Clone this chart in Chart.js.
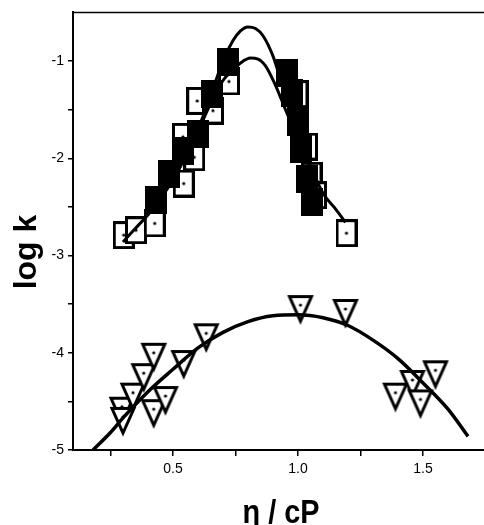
<!DOCTYPE html>
<html>
<head>
<meta charset="utf-8">
<script src="https://cdn.jsdelivr.net/npm/chart.js@4.4.1/dist/chart.umd.min.js"></script>
<style>
  html, body { margin: 0; padding: 0; background: #fff; }
  canvas { display: block; }
</style>
</head>
<body>
<canvas id="chart" width="484" height="525"></canvas>
<script>
// filled squares
const filledX = [0.433, 0.485, 0.54, 0.60, 0.656, 0.72, 0.955, 0.976, 1.0, 1.012, 1.035, 1.055];
const filledY = [-2.43, -2.16, -1.93, -1.75, -1.34, -1.01, -1.12, -1.33, -1.63, -1.90, -2.21, -2.45];

// open squares (with dot)
const openX = [0.303, 0.352, 0.427, 0.543, 0.585, 0.54, 0.597, 0.66, 0.724, 0.998, 1.036, 1.054, 1.072, 1.194];
const openY = [-2.79, -2.74, -2.67, -2.26, -1.99, -1.78, -1.41, -1.51, -1.21, -1.34, -1.88, -2.18, -2.38, -2.77];

// open down triangles (with dot)
const triX = [0.296, 0.30, 0.34, 0.383, 0.423, 0.423, 0.47, 0.543, 0.633, 1.01, 1.19, 1.39, 1.458, 1.49, 1.55];
const triY = [-4.555, -4.66, -4.41, -4.21, -4.0, -4.58, -4.445, -4.075, -3.80, -3.51, -3.55, -4.41, -4.28, -4.48, -4.18];

// fitted curves
const fitUpperX = [0.30, 0.35, 0.40, 0.45, 0.50, 0.55, 0.60, 0.65, 0.70, 0.74, 0.77, 0.80, 0.83, 0.86, 0.90, 0.93, 0.96, 1.00, 1.05, 1.10, 1.15, 1.19];
const fitUpperY = [-2.86, -2.72, -2.58, -2.41, -2.22, -1.98, -1.70, -1.36, -1.00, -0.79, -0.69, -0.65, -0.665, -0.74, -0.95, -1.19, -1.45, -1.75, -2.08, -2.36, -2.52, -2.66];
const fitLowerX = [0.40, 0.45, 0.50, 0.55, 0.60, 0.65, 0.70, 0.74, 0.77, 0.81, 0.84, 0.87, 0.91, 0.95, 1.00, 1.05, 1.08];
const fitLowerY = [-2.58, -2.41, -2.22, -1.98, -1.72, -1.44, -1.20, -1.09, -1.02, -0.97, -0.98, -1.05, -1.25, -1.50, -1.80, -2.10, -2.26];
const fitTriX = [0.18, 0.25, 0.30, 0.40, 0.50, 0.60, 0.70, 0.80, 0.90, 1.00, 1.10, 1.20, 1.30, 1.40, 1.50, 1.60, 1.68];
const fitTriY = [-5.0, -4.82, -4.67, -4.40, -4.17, -3.95, -3.79, -3.68, -3.62, -3.61, -3.64, -3.72, -3.87, -4.06, -4.31, -4.58, -4.86];

// ticks
const xTickVals = [0.25, 0.5, 0.75, 1.0, 1.25, 1.5];
const xTickLabels = ['', '0.5', '', '1.0', '', '1.5'];
const yTickVals = [-5, -4.5, -4, -3.5, -3, -2.5, -2, -1.5, -1];
const yTickLabels = ['-5', '', '-4', '', '-3', '', '-2', '', '-1'];

const xTitle = 'η / cP';
const yTitle = 'log k';

function pts(xs, ys) {
    return xs.map(function (x, i) { return { x: x, y: ys[i] }; });
}

// marker images
function makeSquare(filled) {
    const c = document.createElement('canvas');
    c.width = 22; c.height = 28;
    const g = c.getContext('2d');
    if (filled) {
        g.fillStyle = '#000';
        g.fillRect(0, 0, 22, 28);
    } else {
        g.fillStyle = '#fff';
        g.fillRect(1.5, 1.5, 19, 25);
        g.lineWidth = 3;
        g.strokeStyle = '#000';
        g.strokeRect(1.5, 1.5, 19, 25);
        g.fillStyle = '#000';
        g.beginPath();
        g.arc(11, 14, 1.6, 0, Math.PI * 2);
        g.fill();
    }
    return c;
}

function makeTriangle() {
    const c = document.createElement('canvas');
    c.width = 30; c.height = 40;
    const g = c.getContext('2d');
    g.beginPath();
    g.moveTo(4, 11.5);
    g.lineTo(26, 11.5);
    g.lineTo(15, 36);
    g.closePath();
    g.fillStyle = '#fff';
    g.fill();
    g.lineWidth = 3;
    g.strokeStyle = '#000';
    g.stroke();
    g.fillStyle = '#000';
    g.beginPath();
    g.arc(15, 20, 1.6, 0, Math.PI * 2);
    g.fill();
    return c;
}

const filledMarker = makeSquare(true);
const openMarker = makeSquare(false);
const triMarker = makeTriangle();

//axis titles and the top frame line
const axisTitles = {
    id: 'axisTitles',
    afterDraw(chart) {
        const ctx = chart.ctx;
        const area = chart.chartArea;
        ctx.save();
        ctx.strokeStyle = '#000';
        ctx.lineWidth = 1.5;
        ctx.beginPath();
        ctx.moveTo(area.left, area.top);
        ctx.lineTo(chart.width, area.top);
        ctx.stroke();
        ctx.restore();

        ctx.save();
        ctx.fillStyle = '#000';
        ctx.font = 'bold 32px Arial, "Liberation Sans", sans-serif';
        ctx.textAlign = 'center';
        ctx.translate(36, 252);
        ctx.rotate(-Math.PI / 2);
        ctx.fillText(yTitle, 0, 0);
        ctx.restore();

        ctx.save();
        ctx.fillStyle = '#000';
        ctx.font = 'bold 34px Arial, "Liberation Sans", sans-serif';
        ctx.textAlign = 'center';
        ctx.translate(281, 523);
        ctx.scale(0.85, 1);
        ctx.fillText(xTitle, 0, 0);
        ctx.restore();
    }
};

const tickFont = { family: 'Arial, "Liberation Sans", sans-serif', size: 14 };

const curveStyle = {
    type: 'line',
    showLine: true,
    pointRadius: 0,
    borderColor: '#000',
    borderWidth: 3,
    fill: false,
    cubicInterpolationMode: 'monotone',
    order: 0
};

new Chart(document.getElementById('chart'), {
    type: 'scatter',
    data: {
        datasets: [
            Object.assign({ data: pts(fitUpperX, fitUpperY) }, curveStyle),
            Object.assign({ data: pts(fitLowerX, fitLowerY) }, curveStyle),
            Object.assign({ data: pts(fitTriX, fitTriY) }, curveStyle, { borderWidth: 3.5 }),
            {
                data: pts(filledX, filledY),
                pointStyle: filledMarker,
                pointRadius: 10,
                order: 1
            },
            {
                data: pts(openX, openY),
                pointStyle: openMarker,
                pointRadius: 10,
                order: 2
            },
            {
                data: pts(triX, triY),
                pointStyle: triMarker,
                pointRadius: 10,
                order: 2
            }
        ]
    },
    options: {
        responsive: false,
        animation: false,
        devicePixelRatio: 1,
        layout: { autoPadding: false, padding: { left: 0, right: 0, top: 12, bottom: 0 } },
        plugins: {
            legend: { display: false },
            tooltip: { enabled: false }
        },
        scales: {
            x: {
                type: 'linear',
                position: 'bottom',
                min: 0.1,
                max: 1.744,
                afterFit: function (scale) { scale.height = 75; },
                afterBuildTicks: function (scale) {
                    scale.ticks = xTickVals.map(function (v) { return { value: v }; });
                },
                ticks: {
                    autoSkip: false,
                    maxRotation: 0,
                    color: '#000',
                    font: tickFont,
                    padding: 5,
                    callback: function (value) { return xTickLabels[xTickVals.indexOf(value)]; }
                },
                grid: { drawOnChartArea: false, drawTicks: true, tickLength: 6, color: '#000', lineWidth: 1.5 },
                border: { display: true, color: '#000', width: 2 }
            },
            y: {
                type: 'linear',
                position: 'left',
                min: -5,
                max: -0.5,
                afterFit: function (scale) { scale.width = 73; },
                afterBuildTicks: function (scale) {
                    scale.ticks = yTickVals.map(function (v) { return { value: v }; });
                },
                ticks: {
                    autoSkip: false,
                    color: '#000',
                    font: tickFont,
                    padding: 4,
                    callback: function (value) { return yTickLabels[yTickVals.indexOf(value)]; }
                },
                grid: { drawOnChartArea: false, drawTicks: true, tickLength: 5, color: '#000', lineWidth: 1.5 },
                border: { display: true, color: '#000', width: 2 }
            }
        }
    },
    plugins: [axisTitles]
});
</script>
</body>
</html>
